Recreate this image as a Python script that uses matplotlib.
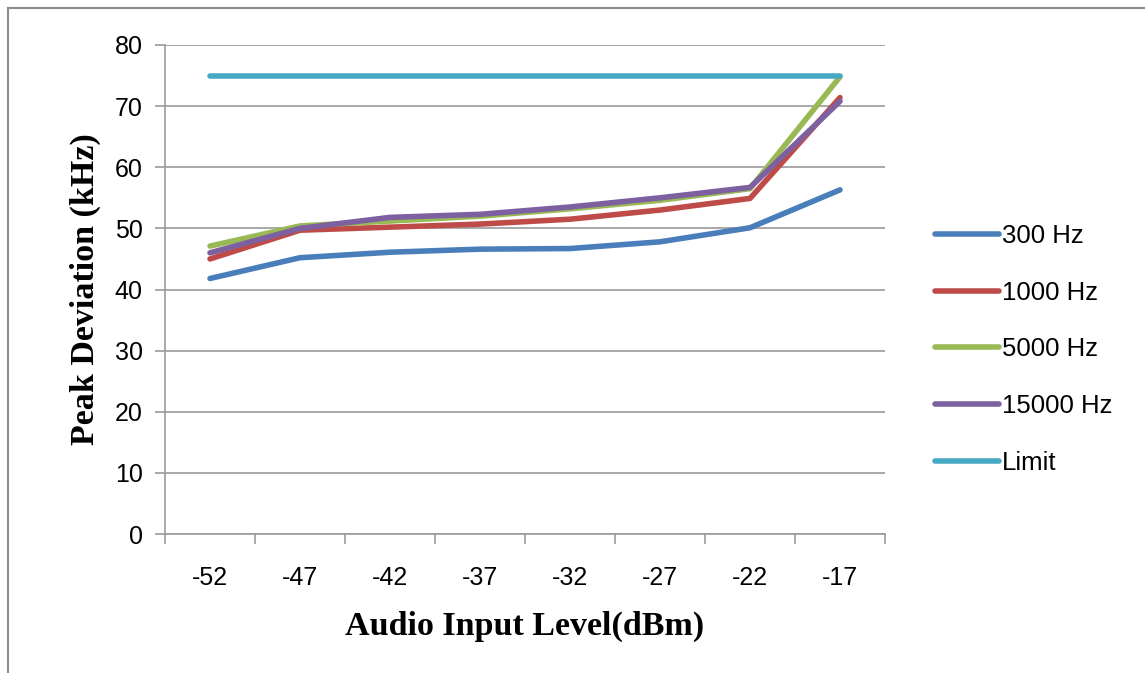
import numpy as np
import matplotlib
matplotlib.use('Agg')
import matplotlib.pyplot as plt
from matplotlib.lines import Line2D

# Audio input level categories (dBm)
levels = ['-52', '-47', '-42', '-37', '-32', '-27', '-22', '-17']

# Peak deviation readings (kHz)
dev_300 = [41.8, 45.2, 46.1, 46.6, 46.7, 47.8, 50.1, 56.3]
dev_1000 = [45.0, 49.7, 50.2, 50.7, 51.5, 53.0, 54.9, 71.4]
dev_5000 = [47.1, 50.4, 51.2, 52.0, 53.2, 54.6, 56.5, 74.8]
dev_15000 = [46.0, 50.0, 51.8, 52.3, 53.5, 55.0, 56.7, 70.8]
limit = [75, 75, 75, 75, 75, 75, 75, 75]

series = [
    ('300 Hz', dev_300, '#4a7ebb'),
    ('1000 Hz', dev_1000, '#be4b48'),
    ('5000 Hz', dev_5000, '#98b954'),
    ('15000 Hz', dev_15000, '#7d60a0'),
    ('Limit', limit, '#46aac5'),
]

fig = plt.figure(figsize=(11.45, 6.73), dpi=100)
ax = fig.add_axes([165/1145, 1-534/673, 720/1145, 489/673])

x = np.arange(len(levels))
for name, vals, col in series:
    # purple drawn on top of green like in the original
    z = 4 if name == '15000 Hz' else 3
    ax.plot(x, vals, color=col, linewidth=4.0, solid_capstyle='round',
            solid_joinstyle='round', label=name, zorder=z)

ax.set_xlim(-0.5, len(levels) - 0.5)
ax.set_ylim(0, 80)
ax.set_yticks(np.arange(0, 81, 10))
ax.set_xticks(x)
ax.set_xticklabels(levels)
ax.set_xticks(np.arange(-0.5, len(levels), 1), minor=True)

grid_col = '#9a9a9a'
ax.yaxis.grid(True, color=grid_col, linewidth=1.2)
ax.set_axisbelow(True)
for s in ['top', 'right']:
    ax.spines[s].set_visible(False)
for s in ['left', 'bottom']:
    ax.spines[s].set_color(grid_col)
    ax.spines[s].set_linewidth(1.2)

ax.tick_params(axis='x', which='major', length=0, pad=23, labelsize=18)
ax.tick_params(axis='x', which='minor', length=7, width=1.2, color=grid_col, direction='out')
ax.tick_params(axis='y', length=7, width=1.2, color=grid_col, pad=9, labelsize=18)
for lbl in ax.get_xticklabels() + ax.get_yticklabels():
    lbl.set_fontfamily('Liberation Sans')

ax.set_xlabel('Audio Input Level(dBm)', fontfamily='Liberation Serif',
              fontweight='bold', fontsize=24.5, labelpad=15)
ax.set_ylabel('Peak Deviation (kHz)', fontfamily='Liberation Serif',
              fontweight='bold', fontsize=24.5, labelpad=10)

handles = [Line2D([0], [0], color=c, linewidth=4.0, solid_capstyle='round') for _, _, c in series]
fig.legend(handles, [n for n, _, _ in series], loc='upper left',
           bbox_to_anchor=(935/1145, 1-224/673), frameon=False,
           prop={'family': 'Liberation Sans', 'size': 18.5},
           handlelength=2.5, handletextpad=0.12, labelspacing=1.27,
           borderpad=0, borderaxespad=0)

# outer frame (left and top edges visible)
fig.add_artist(Line2D([8/1145, 8/1145], [0, 1-8/673], color='#8c8c8c', linewidth=1.5))
fig.add_artist(Line2D([8/1145, 1], [1-8/673, 1-8/673], color='#8c8c8c', linewidth=1.5))

fig.savefig('out.png', dpi=100)
